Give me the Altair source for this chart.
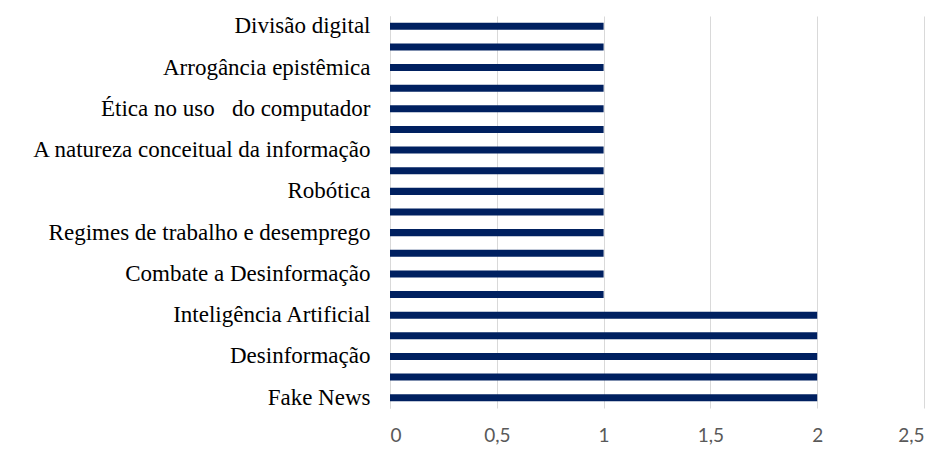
import altair as alt
import pandas as pd

# Category labels (Excel shows every other category label)
shown_labels = [
    "Divisão digital", "", "Arrogância epistêmica", "", "Ética no uso\u00a0\u00a0\u00a0do computador", "",
    "A natureza conceitual da informação", "", "Robótica", "", "Regimes de trabalho e desemprego", "",
    "Combate a Desinformação", "", "Inteligência Artificial", "", "Desinformação", "", "Fake News",
]
values = [1, 1, 1, 1, 1, 1, 1, 1, 1, 1, 1, 1, 1, 1, 2, 2, 2, 2, 2]
ticks = [0, 0.5, 1, 1.5, 2, 2.5]

df = pd.DataFrame({"idx": list(range(len(values))), "label": shown_labels, "value": values})

label_js = "[" + ",".join("'" + s + "'" for s in shown_labels) + "][datum.value]"

chart = alt.Chart(df).mark_bar(color="#002060").encode(
    x=alt.X("value:Q", scale=alt.Scale(domain=[0, 2.5], nice=False),
            axis=alt.Axis(values=ticks, title=None, domain=False, ticks=False,
                          grid=True, gridColor="#d9d9d9", gridWidth=1,
                          labelFont="Lato", labelFontSize=19, labelColor="#595959",
                          labelPadding=18,
                          labelExpr="replace(format(datum.value, '~g'), '.', ',')")),
    y=alt.Y("idx:O", sort=None,
            scale=alt.Scale(paddingInner=0.66, paddingOuter=0.33),
            axis=alt.Axis(title=None, ticks=False, domain=True, domainColor="#d9d9d9",
                          labelExpr=label_js, labelFont="Liberation Serif",
                          labelFontSize=23, labelColor="#000000", labelPadding=20,
                          labelLimit=500)),
).properties(
    width=534, height=392,
    autosize=alt.AutoSizeParams(type="none"),
    padding={"left": 390, "top": 16, "right": 16, "bottom": 56},
).configure_view(stroke=None)

chart.save("out.html", embed_options={"renderer": "svg", "actions": False})
